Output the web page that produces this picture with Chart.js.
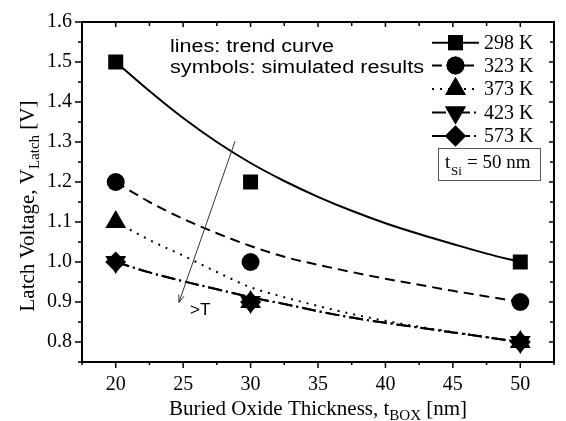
<!DOCTYPE html>
<html>
<head>
<meta charset="utf-8">
<script src="https://cdn.jsdelivr.net/npm/chart.js@4.4.1/dist/chart.umd.min.js"></script>
<style>
  html, body { margin: 0; padding: 0; background: #ffffff; }
  #wrap { width: 566px; height: 421px; position: relative; }
</style>
</head>
<body>
<div id="wrap"><canvas id="c" width="566" height="421"></canvas></div>
<script>
// ---- data ----
const xSim = [20, 30, 50];
const v298 = [1.5, 1.2, 1.0];
const v323 = [1.2, 1.0, 0.9];
const v373 = [1.1, 0.9, 0.8];
const v423 = [1.0, 0.9, 0.8];
const v573 = [1.0, 0.9, 0.8];

const xTrend = [20, 22.5, 25, 27.5, 30, 32.5, 35, 37.5, 40, 42.5, 45, 47.5, 50];
const trend298 = [1.5, 1.4275, 1.36, 1.30, 1.2475, 1.2025, 1.163, 1.128, 1.097, 1.07, 1.045, 1.021, 1.0];
const trend323 = [1.2, 1.15, 1.108, 1.072, 1.04, 1.013, 0.993, 0.975, 0.958, 0.943, 0.928, 0.914, 0.9];
const trend373 = [1.1, 1.055, 1.016, 0.975, 0.937, 0.912, 0.89, 0.87, 0.853, 0.838, 0.825, 0.812, 0.8];
const trend423 = [1.0, 0.974, 0.952, 0.932, 0.912, 0.895, 0.877, 0.861, 0.848, 0.836, 0.824, 0.812, 0.8];
const trend573 = [1.0, 0.974, 0.952, 0.932, 0.912, 0.895, 0.877, 0.861, 0.848, 0.836, 0.824, 0.812, 0.8];

const seriesNames = ['298 K', '323 K', '373 K', '423 K', '573 K'];
const xTicks = [20, 25, 30, 35, 40, 45, 50];
const xMinorTicks = [17.5, 22.5, 27.5, 32.5, 37.5, 42.5, 47.5, 52.5];
const yTicks = [0.8, 0.9, 1.0, 1.1, 1.2, 1.3, 1.4, 1.5, 1.6];
const yMinorTicks = [0.75, 0.85, 0.95, 1.05, 1.15, 1.25, 1.35, 1.45, 1.55];
const arrowFrom = {x: 28.85, y: 1.302};
const arrowTo = {x: 24.69, y: 0.899};

// ---- styles ----
const SERIF = '"Liberation Serif", "Times New Roman", serif';
const SANS = '"Liberation Sans", Arial, sans-serif';
const styles = [
  {dash: [], point: 'rect', r: 10.6, rot: 0},
  {dash: [10, 6], point: 'circle', r: 9, rot: 0},
  {dash: [2, 6], point: 'triangle', r: 12, rot: 0},
  {dash: [14, 4, 2, 4], point: 'triangle', r: 12, rot: 180},
  {dash: [14, 4, 2, 4], point: 'rectRot', r: 10.5, rot: 0}
];
const simSets = [v298, v323, v373, v423, v573];
const trendSets = [trend298, trend323, trend373, trend423, trend573];

const datasets = [];
simSets.forEach((vals, i) => {
  datasets.push({
    label: seriesNames[i],
    data: xSim.map((x, k) => ({x: x, y: vals[k]})),
    showLine: false,
    pointStyle: styles[i].point,
    pointRotation: styles[i].rot,
    pointRadius: styles[i].r,
    pointHoverRadius: styles[i].r,
    backgroundColor: '#000',
    borderColor: '#000',
    borderWidth: 0,
    order: 0
  });
});
trendSets.forEach((vals, i) => {
  datasets.push({
    label: seriesNames[i] + ' trend',
    data: xTrend.map((x, k) => ({x: x, y: vals[k]})),
    showLine: true,
    pointRadius: 0,
    borderColor: '#000',
    borderWidth: 2,
    borderDash: styles[i].dash,
    cubicInterpolationMode: 'monotone',
    fill: false,
    order: 1
  });
});

function stretchText(ctx, text, x, y, targetW) {
  const w = ctx.measureText(text).width;
  ctx.save();
  ctx.translate(x, y);
  ctx.scale(targetW / w, 1);
  ctx.fillText(text, 0, 0);
  ctx.restore();
}

function drawMarker(ctx, style, x, y) {
  Chart.helpers.drawPoint(ctx, {pointStyle: style.point, rotation: style.rot, radius: style.r, borderWidth: 0}, x, y);
  ctx.fill();
}

const decor = {
  id: 'decor',
  afterDraw(chart) {
    const ctx = chart.ctx;
    const {left, right, top, bottom} = chart.chartArea;
    const sx = chart.scales.x, sy = chart.scales.y;
    ctx.save();
    ctx.strokeStyle = '#000';
    ctx.fillStyle = '#000';
    // frame
    ctx.lineWidth = 2;
    ctx.setLineDash([]);
    ctx.strokeRect(left, top, right - left, bottom - top);
    // ticks
    ctx.lineWidth = 1.5;
    ctx.beginPath();
    xTicks.forEach(v => {
      const p = sx.getPixelForValue(v);
      ctx.moveTo(p, bottom); ctx.lineTo(p, bottom + 6);
      ctx.moveTo(p, top); ctx.lineTo(p, top + 5);
    });
    xMinorTicks.forEach(v => {
      const p = sx.getPixelForValue(v);
      ctx.moveTo(p, bottom); ctx.lineTo(p, bottom + 3);
      ctx.moveTo(p, top); ctx.lineTo(p, top + 4);
    });
    yTicks.forEach(v => {
      const p = sy.getPixelForValue(v);
      ctx.moveTo(left, p); ctx.lineTo(left - 7, p);
      ctx.moveTo(right, p); ctx.lineTo(right - 5, p);
    });
    yMinorTicks.forEach(v => {
      const p = sy.getPixelForValue(v);
      ctx.moveTo(left, p); ctx.lineTo(left - 4, p);
      ctx.moveTo(right, p); ctx.lineTo(right - 4, p);
    });
    ctx.stroke();

    // annotation text
    ctx.font = '18px ' + SANS;
    ctx.textBaseline = 'alphabetic';
    ctx.textAlign = 'left';
    stretchText(ctx, 'lines: trend curve', 170, 52, 164);
    stretchText(ctx, 'symbols: simulated results', 170, 73, 254);

    // arrow
    const ax1 = sx.getPixelForValue(arrowFrom.x), ay1 = sy.getPixelForValue(arrowFrom.y);
    const ax2 = sx.getPixelForValue(arrowTo.x), ay2 = sy.getPixelForValue(arrowTo.y);
    ctx.strokeStyle = '#333';
    ctx.lineWidth = 1;
    ctx.beginPath();
    ctx.moveTo(ax1, ay1); ctx.lineTo(ax2, ay2);
    const ang = Math.atan2(ay2 - ay1, ax2 - ax1);
    const hl = 8;
    ctx.moveTo(ax2, ay2); ctx.lineTo(ax2 - hl * Math.cos(ang - 0.35), ay2 - hl * Math.sin(ang - 0.35));
    ctx.moveTo(ax2, ay2); ctx.lineTo(ax2 - hl * Math.cos(ang + 0.35), ay2 - hl * Math.sin(ang + 0.35));
    ctx.stroke();
    ctx.fillStyle = '#000';
    ctx.font = '17px ' + SANS;
    ctx.textBaseline = 'middle';
    ctx.fillText('>T', 190, 310);

    // legend
    const rows = [42.7, 65.5, 89, 112.5, 136];
    ctx.strokeStyle = '#000';
    styles.forEach((st, i) => {
      const yy = rows[i];
      ctx.lineWidth = 2;
      ctx.setLineDash(st.dash);
      ctx.beginPath();
      ctx.moveTo(432, yy); ctx.lineTo(479, yy);
      ctx.stroke();
      ctx.setLineDash([]);
      drawMarker(ctx, st, 455.5, yy);
      ctx.font = '20px ' + SERIF;
      ctx.textBaseline = 'middle';
      ctx.fillText(seriesNames[i], 484, yy + 1);
    });
    // t_Si box
    ctx.setLineDash([]);
    ctx.lineWidth = 1;
    ctx.strokeStyle = '#555';
    ctx.strokeRect(438.5, 148.5, 102, 32);
    ctx.fillStyle = '#000';
    ctx.font = '19px ' + SERIF;
    ctx.textBaseline = 'middle';
    ctx.fillText('t', 445, 163);
    ctx.font = '13px ' + SERIF;
    ctx.fillText('Si', 451, 172);
    ctx.font = '19px ' + SERIF;
    ctx.fillText('= 50 nm', 467, 163);

    // x axis title
    ctx.textBaseline = 'alphabetic';
    const xt1 = 'Buried Oxide Thickness, t', xsub = 'BOX', xt2 = ' [nm]';
    ctx.font = '21px ' + SERIF;
    const w1 = ctx.measureText(xt1).width, w3 = ctx.measureText(xt2).width;
    ctx.font = '15px ' + SERIF;
    const w2 = ctx.measureText(xsub).width;
    let xs = (left + right) / 2 - (w1 + w2 + w3) / 2;
    const xb = 415;
    ctx.font = '21px ' + SERIF; ctx.fillText(xt1, xs, xb);
    ctx.font = '15px ' + SERIF; ctx.fillText(xsub, xs + w1, xb + 5);
    ctx.font = '21px ' + SERIF; ctx.fillText(xt2, xs + w1 + w2, xb);

    // y axis title (rotated)
    const yt1 = 'Latch Voltage, V', ysub = 'Latch', yt2 = ' [V]';
    ctx.font = '21px ' + SERIF;
    const u1 = ctx.measureText(yt1).width, u3 = ctx.measureText(yt2).width;
    ctx.font = '15px ' + SERIF;
    const u2 = ctx.measureText(ysub).width;
    ctx.save();
    ctx.translate(34, 206);
    ctx.rotate(-Math.PI / 2);
    let ys = -(u1 + u2 + u3) / 2;
    ctx.font = '21px ' + SERIF; ctx.fillText(yt1, ys, 0);
    ctx.font = '15px ' + SERIF; ctx.fillText(ysub, ys + u1, 5);
    ctx.font = '21px ' + SERIF; ctx.fillText(yt2, ys + u1 + u2, 0);
    ctx.restore();

    ctx.restore();
  }
};

new Chart(document.getElementById('c'), {
  type: 'scatter',
  data: {datasets: datasets},
  options: {
    responsive: false,
    animation: false,
    events: [],
    layout: {padding: {left: 0, right: 7, top: 20, bottom: 0}},
    plugins: {legend: {display: false}, tooltip: {enabled: false}, title: {display: false}},
    scales: {
      x: {
        type: 'linear', min: 17.5, max: 52.5,
        afterBuildTicks: s => { s.ticks = xTicks.map(v => ({value: v})); },
        afterFit: s => { s.height = 59; },
        grid: {display: false, drawTicks: false, tickLength: 0},
        border: {display: false},
        ticks: {font: {family: SERIF, size: 20}, color: '#000', padding: 11, maxRotation: 0, autoSkip: false}
      },
      y: {
        type: 'linear', min: 0.75, max: 1.6,
        afterBuildTicks: s => { s.ticks = yTicks.map(v => ({value: v})); },
        afterFit: s => { s.width = 82; },
        grid: {display: false, drawTicks: false, tickLength: 0},
        border: {display: false},
        ticks: {font: {family: SERIF, size: 20}, color: '#000', padding: 10, autoSkip: false,
                callback: v => Number(v).toFixed(1)}
      }
    }
  },
  plugins: [decor]
});
</script>
</body>
</html>
